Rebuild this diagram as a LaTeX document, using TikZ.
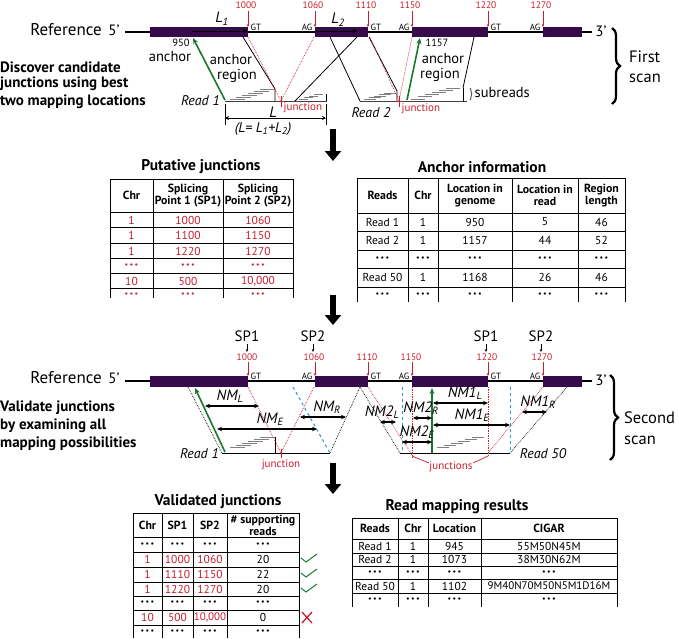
\documentclass[tikz,border=0pt]{standalone}
\usepackage{fontspec}
\setmainfont{PT Sans}
\usetikzlibrary{arrows.meta,decorations.pathreplacing}
\definecolor{exon}{RGB}{55,10,75}
\definecolor{jred}{RGB}{200,30,45}
\definecolor{agreen}{RGB}{25,120,45}
\definecolor{dblue}{RGB}{40,150,210}
\newcommand\fs[1]{\fontsize{#1}{#1}\selectfont}
\newcommand\dd{{\fs{8}\textbullet\,\textbullet\,\textbullet}}
\newcommand\stair[6]{\foreach \i in {1,...,#6}{\draw[subr] ({#1+(\i-1)*#3},{#2-(\i-1)*#4}) -- ++(#5,0);}}
\begin{document}
\begin{tikzpicture}[x=1pt,y=-1pt,
  refline/.style={line width=1.2pt},
  exonbar/.style={fill=exon,draw=none},
  redlab/.style={text=jred,font=\fs{9.5}},
  redtick/.style={jred,line width=0.6pt,-{Stealth[length=3pt,width=2.6pt]}},
  blktick/.style={black,line width=0.6pt,-{Stealth[length=3pt,width=2.6pt]}},
  gtag/.style={font=\fs{9},inner sep=0.5pt},
  reddot/.style={jred,densely dotted,line width=0.7pt},
  blkdot/.style={black,densely dotted,line width=0.7pt},
  bluedash/.style={dblue,dashed,line width=1pt},
  greenarr/.style={agreen,line width=1.6pt,-{Stealth[length=6pt,width=5pt]}},
  dblarr/.style={line width=1.2pt,{Stealth[length=5pt,width=4.5pt]}-{Stealth[length=5pt,width=4.5pt]}},
  readline/.style={black!75,line width=1pt},
  subr/.style={gray,line width=0.7pt},
  thin/.style={line width=0.8pt},
  bigarrow/.style={line width=6.5pt,-{Triangle[length=10pt,width=16pt]}},
  lefttxt/.style={anchor=west,font=\bfseries\fs{15},inner sep=0pt},
  ital/.style={font=\itshape\fs{14},inner sep=1pt},
  nmt/.style={font=\itshape\fs{15},inner sep=1pt},
  plain/.style={font=\fs{14.5},inner sep=0.5pt},
  reftxt/.style={font=\fs{17}},
  scantxt/.style={font=\fs{16.5},anchor=west,inner sep=0pt},
  brc/.style={decorate,decoration={brace,amplitude=8pt},line width=2.2pt},
  tbl/.style={line width=0.8pt},
  th/.style={font=\bfseries\fs{11.8},align=center,inner sep=0pt},
  td/.style={font=\fs{11.5},inner sep=0pt},
  tdr/.style={font=\fs{11.5},inner sep=0pt,text=jred},
  ttl/.style={font=\bfseries\fs{15.5}},
  jlab/.style={text=jred,font=\fs{11},inner sep=0.5pt}
]
\useasboundingbox (0,0) rectangle (678,638);

%% ================= FIRST SCAN =================
\node[reftxt] (ref1) at (66,30) {Reference};
\node[font=\fs{15}] (p5a) at (114,30) {5’};
\node[font=\fs{15},inner sep=1pt] (p3a) at (601,31) {3’};
\draw[refline] (125,32) -- (592,32);
\fill[exonbar] (150,27) rectangle (248,37);
\fill[exonbar] (315,27) rectangle (368,37);
\fill[exonbar] (412,27) rectangle (488,37);
\fill[exonbar] (543,27) rectangle (582,37);
\foreach \x/\t in {248/1000,315/1060,368/1110,412/1150,488/1220,543/1270}{
  \node[redlab] (t\t) at (\x-2,5) {\t};
  \draw[redtick] (\x,11) -- (\x,27);
}
\node[gtag,anchor=south west] (gt1) at (250,31) {GT};
\node[gtag,anchor=south east] (ag1) at (313,31) {AG};
\node[gtag,anchor=south west] (gt2) at (370,31) {GT};
\node[gtag,anchor=south east] (ag2) at (410,31) {AG};
\node[gtag,anchor=south west] (gt3) at (490,31) {GT};
\node[gtag,anchor=south east] (ag3) at (541,31) {AG};
% L1, L2
\draw[black,line width=0.8pt,-{Stealth[length=4pt,width=4pt]}] (192,31) -- (247,31);
\draw[black,line width=0.8pt,-{Stealth[length=4pt,width=4pt]}] (316,31) -- (357,31);
\node[nmt] (L1) at (222,19) {L\textsubscript{1}};
\node[nmt] (L2) at (338,20) {L\textsubscript{2}};
\node[font=\fs{10.5}] (n950) at (181,43) {950};
\node[plain] (anc1) at (170,57) {anchor};
\node[plain] (ar1a) at (231,60) {anchor};
\node[plain] (ar1b) at (237,76) {region};
\node[lefttxt] (d1) at (0,67) {Discover candidate};
\node[lefttxt] (d2) at (0,84) {junctions using best};
\node[lefttxt] (d3) at (0,102) {two mapping locations};
% read 1
\draw[readline] (225,101) -- (327,101);
\draw[thin] (243,37) -- (275,89) -- (275,101);
\stair{230}{99}{6}{2}{15}{6}
\draw[reddot] (248,37) -- (281,101);
\draw[reddot] (314,37) -- (281,101);
\draw[jred,line width=0.7pt] (281,96) -- (281,107) (278,101) -- (284,101);
\node[jlab,anchor=west] (j1) at (283,108) {junction};
\draw[thin] (295,101) -- (357,37);
\stair{299}{99}{5}{1.5}{9}{4}
\draw[thin] (326,94) -- (326,101);
\draw[greenarr] (225,100) -- (193,38);
\node[ital,anchor=east] (r1a) at (221,101) {Read 1};
\draw[thin] (225,104) -- (225,125);
\draw[thin] (326,104) -- (326,125);
\draw[line width=0.8pt,{Stealth[length=4pt,width=4pt]}-{Stealth[length=4pt,width=4pt]}] (225,118) -- (326,118);
\node[nmt,anchor=south,inner sep=1pt] (Lsum) at (273,119) {L};
\node[ital] (Lform) at (263,129) {(L= L\textsubscript{1}+L\textsubscript{2})};
% read 2
\draw[thin] (330,37) -- (360,101);
\draw[readline] (360,101) -- (467,101);
\draw[thin] (369,37) -- (397,91) -- (397,101);
\stair{364}{99}{5}{1.5}{12}{5}
\draw[reddot] (370,37) -- (399,101);
\draw[reddot] (412,37) -- (399,101);
\draw[jred,line width=0.7pt] (399,96) -- (399,107) (396,101) -- (402,101);
\node[jlab,anchor=west] (j2) at (401,109) {junction};
\draw[greenarr] (407,100) -- (420,38);
\node[font=\fs{10.5},anchor=west] (n1157) at (422,43) {1157};
\node[plain] (ar2a) at (443,59) {anchor};
\node[plain] (ar2b) at (440,75) {region};
\stair{411}{99}{7}{2.2}{14}{6}
\draw[thin] (463,88) -- (463,101);
\draw[thin] (474,37) -- (463,88);
\draw[decorate,decoration={brace,amplitude=2pt},line width=0.6pt] (470,88) -- (470,100);
\node[plain,anchor=west] (subr) at (474,93) {subreads};
\node[ital] (r2a) at (371,113) {Read 2};
\draw[brc] (612,28) -- (612,104);
\node[scantxt] (fs1) at (629,57) {First};
\node[scantxt] (fs2) at (629,78) {scan};

%% big arrows
\draw[bigarrow] (333,129) -- (333,161);
\draw[bigarrow] (333,295) -- (333,325);
\draw[bigarrow] (333,463) -- (333,494);

%% ================= PUTATIVE JUNCTIONS =================
\node[ttl] (tpj) at (201,167) {Putative junctions};
\draw[tbl] (110,179) -- (293,179);
\foreach \y in {212,227.5,243,258.5,273.5,288.5}{\draw[tbl] (110,\y) -- (293,\y);}
\foreach \x in {110,153,223,293}{\draw[tbl] (\x,179) -- (\x,298);}
\node[th] (h11) at (131.5,195.5) {Chr};
\node[th] (h12) at (188,195.5) {Splicing\\Point 1 (SP1)};
\node[th] (h13) at (258,195.5) {Splicing\\Point 2 (SP2)};
\foreach \y/\a/\b/\c in {220/1/1000/1060,235.5/1/1100/1150,251/1/1220/1270,266/\dd/\dd/\dd,281/10/500/{10,000},294.5/\dd/\dd/\dd}{
  \node[tdr] at (131.5,\y) {\a};
  \node[tdr] at (188,\y) {\b};
  \node[tdr] at (258,\y) {\c};
}

%% ================= ANCHOR INFORMATION =================
\node[ttl] (tai) at (482,167) {Anchor information};
\draw[tbl] (357,178) -- (625,178);
\foreach \y in {213,231,250,268,287}{\draw[tbl] (357,\y) -- (625,\y);}
\foreach \x in {357,408,438,512,578,625}{\draw[tbl] (\x,178) -- (\x,302);}
\node[th] (h21) at (382.5,195.5) {Reads};
\node[th] (h22) at (423,195.5) {Chr};
\node[th] (h23) at (475,195.5) {Location in\\genome};
\node[th] (h24) at (545,195.5) {Location in\\read};
\node[th] (h25) at (601.5,195.5) {Region\\length};
\foreach \y/\a/\b/\c/\d/\e in {222/Read 1/1/950/5/46,240.5/Read 2/1/1157/44/52,259/\dd/\dd/\dd/\dd/\dd,277.5/Read 50/1/1168/26/46,295/\dd/\dd/\dd/\dd/\dd}{
  \node[td] at (382.5,\y) {\a};
  \node[td] at (423,\y) {\b};
  \node[td] at (475,\y) {\c};
  \node[td] at (545,\y) {\d};
  \node[td] at (601.5,\y) {\e};
}

%% ================= SECOND SCAN =================
\node[reftxt] (ref2) at (66,378) {Reference};
\node[font=\fs{15}] (p5b) at (114,378) {5’};
\node[font=\fs{15},inner sep=1pt] (p3b) at (601,380) {3’};
\draw[refline] (125,381) -- (592,381);
\fill[exonbar] (150,376) rectangle (248,387);
\fill[exonbar] (315,376) rectangle (368,387);
\fill[exonbar] (412,376) rectangle (488,387);
\fill[exonbar] (543,376) rectangle (582,387);
\foreach \x/\t in {248/1000,315/1060,368/1110,412/1150,488/1220,543/1270}{
  \node[redlab] (s\t) at (\x-1,357) {\t};
  \draw[redtick] (\x,362) -- (\x,376);
}
\foreach \x/\t/\n in {247/SP1/a,313/SP2/b,486/SP1/c,541/SP2/d}{
  \node[font=\fs{15}] (sp\n) at (\x,336) {\t};
  \draw[blktick] (\x,344) -- (\x,352);
}
\node[gtag,anchor=south west] (gt4) at (250,380) {GT};
\node[gtag,anchor=south east] (ag4) at (313,380) {AG};
\node[gtag,anchor=south west] (gt5) at (370,380) {GT};
\node[gtag,anchor=south east] (ag5) at (410,380) {AG};
\node[gtag,anchor=south west] (gt6) at (490,380) {GT};
\node[gtag,anchor=south east] (ag6) at (541,380) {AG};
\node[lefttxt] (v1) at (0,408) {Validate junctions};
\node[lefttxt] (v2) at (0,426) {by examining all};
\node[lefttxt] (v3) at (0,444) {mapping possibilities};
% read 1
\draw[readline,black] (222,453) -- (330,453);
\draw[blkdot] (188,387) -- (222,453);
\stair{230}{447}{6}{2}{15}{6}
\draw[thin] (275,437) -- (275,453);
\draw[reddot] (248,387) -- (281,453);
\draw[reddot] (314,387) -- (281,453);
\draw[bluedash] (293,387) -- (330,453);
\draw[blkdot] (360,387) -- (330,453);
\draw[greenarr] (225,452) -- (195,388);
\draw[jred,line width=0.7pt] (281,449) -- (281,458);
\node[jlab] (j3) at (281,465) {junction};
\node[ital,anchor=east] (r1b) at (220,454) {Read 1};
\draw[dblarr] (205,406) -- (259,406);
\node[nmt] (nml) at (230,396) {NM\textsubscript{L}};
\draw[dblarr] (217,429) -- (317,429);
\node[nmt] (nme) at (270,419) {NM\textsubscript{E}};
\draw[dblarr] (300,417) -- (346,417);
\node[nmt] (nmr) at (327,407) {NM\textsubscript{R}};
% read 50
\draw[readline,black] (400,453) -- (510,453);
\draw[blkdot] (360,387) -- (400,453);
\draw[blkdot] (567,387) -- (510,453);
\draw[bluedash] (402,387) -- (402,453);
\draw[bluedash] (510,387) -- (510,453);
\draw[reddot] (368,387) -- (412,455);
\draw[reddot] (412,387) -- (412,458);
\draw[reddot] (488,387) -- (488,456);
\draw[reddot] (543,387) -- (488,453);
\draw[jred,line width=0.7pt] (412,456) -- (429,463) (488,456) -- (473,463);
\node[jlab] (j4) at (451,467) {junctions};
\stair{437}{447}{7}{2}{12}{6}
\draw[greenarr] (432,453) -- (432,388);
\draw[dblarr] (433,403) -- (488,403);
\node[nmt] (nm1l) at (465,393) {NM1\textsubscript{L}};
\draw[dblarr] (433,425) -- (510,425);
\node[nmt] (nm1e) at (472,415) {NM1\textsubscript{E}};
\draw[dblarr] (522,412) -- (547,412);
\node[nmt] (nm1r) at (538,402) {NM1\textsubscript{R}};
\draw[dblarr] (413,418) -- (432,418);
\node[nmt] (nm2r) at (421,408) {NM2\textsubscript{R}};
\draw[dblarr] (402,442) -- (432,442);
\node[nmt] (nm2e) at (417,432) {NM2\textsubscript{E}};
\draw[dblarr] (380,422) -- (396,422);
\node[nmt] (nm2l) at (382,412) {NM2\textsubscript{L}};
\node[ital] (r50) at (543,454) {Read 50};
\draw[brc] (610,375) -- (610,460);
\node[scantxt] (ss1) at (624,418) {Second};
\node[scantxt] (ss2) at (624,440) {scan};

%% ================= VALIDATED JUNCTIONS =================
\node[ttl] (tvj) at (218,502) {Validated junctions};
\draw[tbl] (133,513) -- (299,513);
\foreach \y in {537,552,567,582,596,610,625}{\draw[tbl] (133,\y) -- (299,\y);}
\foreach \x in {133,162,193,227,299}{\draw[tbl] (\x,513) -- (\x,638);}
\node[th] (h31) at (147.5,525) {Chr};
\node[th] (h32) at (177.5,525) {SP1};
\node[th] (h33) at (210,525) {SP2};
\node[th] (h34) at (263,525) {\# supporting\\reads};
\foreach \y/\a/\b/\c/\d/\k in {544.5/\dd/\dd/\dd/\dd/td,559.5/1/1000/1060/20/tdr,574.5/1/1110/1150/22/tdr,589/1/1220/1270/20/tdr,603/\dd/\dd/\dd/\dd/td,617.5/10/500/{\fs{11}10,000}/0/tdr,632/\dd/\dd/\dd/\dd/td}{
  \node[\k] at (147.5,\y) {\a};
  \node[\k] at (177.5,\y) {\b};
  \node[\k] at (210,\y) {\c};
  \node[td] at (263,\y) {\d};
}
\foreach \y in {559,574,589}{\draw[agreen,line width=1pt] (301,\y-1) -- (306,\y+3) -- (317,\y-5);}
\draw[jred,line width=1.3pt] (302,612) -- (312,623) (312,612) -- (302,623);

%% ================= READ MAPPING RESULTS =================
\node[ttl] (trm) at (457,507) {Read mapping results};
\draw[tbl] (352,518) -- (617,518);
\foreach \y in {539,553,566,579,593}{\draw[tbl] (352,\y) -- (617,\y);}
\foreach \x in {352,398,428,481,617}{\draw[tbl] (\x,518) -- (\x,607);}
\node[th] (h41) at (375,528.5) {Reads};
\node[th] (h42) at (413,528.5) {Chr};
\node[th] (h43) at (454.5,528.5) {Location};
\node[th] (h44) at (549,528.5) {CIGAR};
\foreach \y/\a/\b/\c/\d in {546/Read 1/1/945/55M50N45M,559.5/Read 2/1/1073/38M30N62M,572.5/\dd/\dd/\dd/\dd,586/Read 50/1/1102/{\fs{11}9M40N70M50N5M1D16M},600/\dd/\dd/\dd/\dd}{
  \node[td] at (375,\y) {\a};
  \node[td] at (413,\y) {\b};
  \node[td] at (454.5,\y) {\c};
  \node[td] at (549,\y) {\d};
}
\end{tikzpicture}
\end{document}
